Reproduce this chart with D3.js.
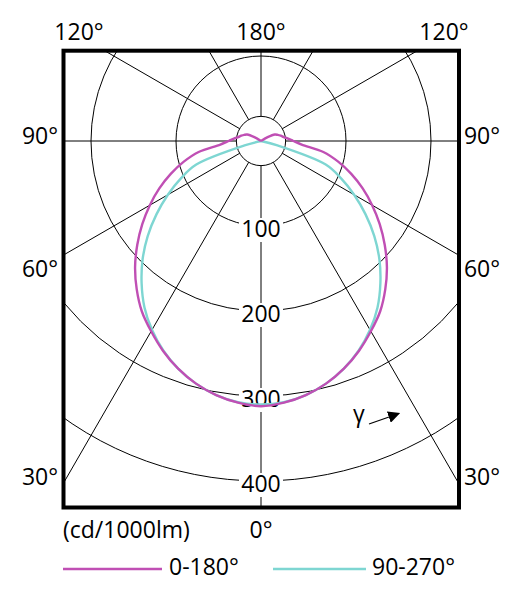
<!DOCTYPE html>
<html><head><meta charset="utf-8">
<script src="https://cdn.jsdelivr.net/npm/d3@7"></script>
<style>
html,body{margin:0;padding:0;background:#fff;}
svg{display:block;font-family:"Open Sans",sans-serif;}
</style></head>
<body><svg id="c" width="510" height="602"></svg>
<script>
// ---- data ----
const angles = [0,5,10,15,20,25,30,35,40,45,50,55,60,65,70,75,80,85,90,95,100,105,110,115,120,125,130,135,140,145,150,155,160,165,170,175,180];
const cd0_180 = [312,309,303.5,295.5,285,272.5,258.5,244.5,227.5,209.5,190,170.5,151,132,113,94,74.5,48,38,32,27,24,21,18,9,0,0,0,0,0,0,0,0,0,0,0,0];
const cd90_270 = [310,308.5,303.5,295.5,285,272,256.5,239,218.5,197,174,150,126.5,104,81,20,0,0,0,0,0,0,0,0,0,0,0,0,0,0,0,0,0,0,0,0,0];
const seriesNames = ["0-180°","90-270°"];
const seriesColors = ["#c04fb4","#7ed6d2"];
const ringValues = [100,200,300,400];
const innerRing = 29;
const spokeAngles = [0,30,60,90,120,150,180,210,240,270,300,330];
const unitLabel = "(cd/1000lm)";

// ---- layout ----
const svg = d3.select("#c");
const cx = 261, cy = 141;
const box = {x0:63.5, y0:50.7, x1:459, y1:507.5};
const r = d3.scaleLinear().domain([0,100]).range([0,85]);
const FS = 23;

svg.append("clipPath").attr("id","clip").append("rect")
  .attr("x",box.x0).attr("y",box.y0).attr("width",box.x1-box.x0).attr("height",box.y1-box.y0);

const g = svg.append("g").attr("transform",`translate(${cx},${cy})`);
const grid = g.append("g").attr("clip-path",`url(#clip)`)
  .attr("transform",`translate(${-cx},${-cy})`).append("g").attr("transform",`translate(${cx},${cy})`);

// rings
grid.selectAll("circle.ring").data([innerRing].concat(ringValues)).join("circle")
  .attr("class","ring").attr("r",d=>r(d)).attr("fill","none").attr("stroke","#000").attr("stroke-width",1);
// spokes (0 = straight down)
grid.selectAll("line.spoke").data(spokeAngles).join("line")
  .attr("class","spoke")
  .attr("x1",d=>r(innerRing)*Math.sin(d*Math.PI/180))
  .attr("y1",d=>r(innerRing)*Math.cos(d*Math.PI/180))
  .attr("x2",d=>800*Math.sin(d*Math.PI/180))
  .attr("y2",d=>800*Math.cos(d*Math.PI/180))
  .attr("stroke","#000").attr("stroke-width",1);

// ring value labels
const vl = g.selectAll("g.vlab").data(ringValues).join("g").attr("class","vlab")
  .attr("transform",d=>`translate(0,${r(d)+11})`);
vl.append("rect").attr("x",-22).attr("y",-19).attr("width",44).attr("height",24).attr("fill","#fff");
vl.append("text").attr("text-anchor","middle").attr("font-size",FS).text(d=>d);

// curves
function pts(vals){
  const left = angles.map((a,i)=>[Math.PI + a*Math.PI/180, r(vals[i])]).reverse();
  const right = angles.map((a,i)=>[Math.PI - a*Math.PI/180, r(vals[i])]).slice(1);
  return left.concat(right);
}
const line = d3.lineRadial().angle(d=>d[0]).radius(d=>d[1]).curve(d3.curveCatmullRom.alpha(0.5));
[cd90_270, cd0_180].forEach((vals,k)=>{
  const idx = k===0 ? 1 : 0;
  g.append("path").attr("d",line(pts(vals))).attr("fill","none")
    .attr("stroke",seriesColors[idx]).attr("stroke-width",2.4).attr("stroke-linejoin","round");
});

// frame
svg.append("rect").attr("x",box.x0).attr("y",box.y0).attr("width",box.x1-box.x0).attr("height",box.y1-box.y0)
  .attr("fill","none").attr("stroke","#000").attr("stroke-width",4);

// angle labels
const angleLabels = [
  {t:"120°",x:79,y:39.5},{t:"180°",x:261,y:39.5},{t:"120°",x:444,y:39.5},
  {t:"90°",x:40,y:143.5},{t:"90°",x:482,y:143.5},
  {t:"60°",x:40,y:277},{t:"60°",x:482,y:277},
  {t:"30°",x:40,y:485},{t:"30°",x:482,y:485},
  {t:"0°",x:261,y:538}
];
svg.selectAll("text.alab").data(angleLabels).join("text").attr("class","alab")
  .attr("x",d=>d.x).attr("y",d=>d.y).attr("text-anchor","middle").attr("font-size",FS).text(d=>d.t);

svg.append("text").attr("x",63).attr("y",538).attr("font-size",FS).text(unitLabel);

// gamma annotation
svg.append("defs").append("marker").attr("id","ah").attr("viewBox","0 0 10 10").attr("refX",9).attr("refY",5)
  .attr("markerWidth",12).attr("markerHeight",12).attr("markerUnits","userSpaceOnUse").attr("orient","auto")
  .append("path").attr("d","M0,0L10,5L0,10z").attr("fill","#000");
svg.append("text").attr("x",359).attr("y",422).attr("text-anchor","middle").attr("font-size",FS).text("γ");
svg.append("line").attr("x1",369).attr("y1",424).attr("x2",399).attr("y2",413.5)
  .attr("stroke","#000").attr("stroke-width",1.2).attr("marker-end","url(#ah)");

// legend
const leg = svg.selectAll("g.leg").data(seriesNames).join("g").attr("class","leg")
  .attr("transform",(d,i)=>`translate(${i===0?63:273},569)`);
leg.append("line").attr("x1",0).attr("x2",(d,i)=>i===0?99:93).attr("y1",0).attr("y2",0)
  .attr("stroke",(d,i)=>seriesColors[i]).attr("stroke-width",2.4);
leg.append("text").attr("x",(d,i)=>i===0?106:99).attr("y",6).attr("font-size",FS).text(d=>d);
</script></body></html>
